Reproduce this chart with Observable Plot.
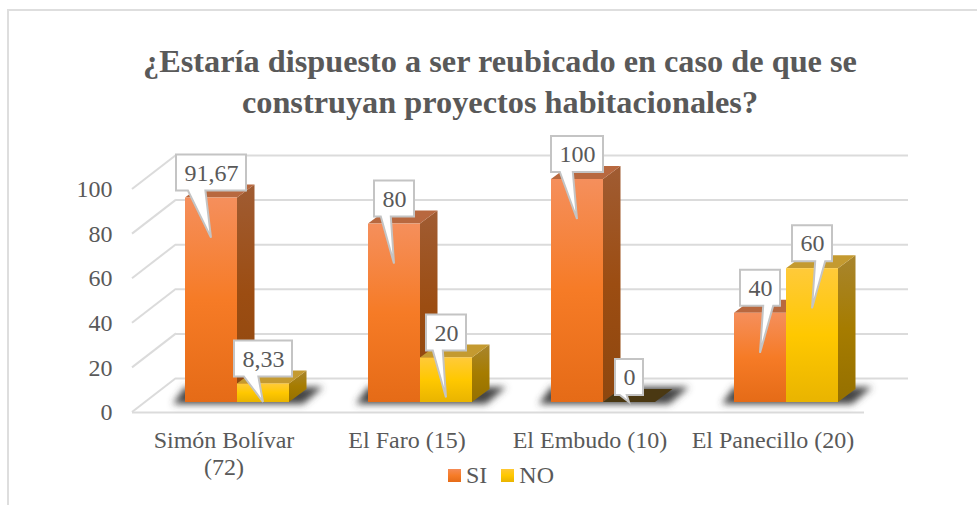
<!DOCTYPE html>
<html>
<head>
<meta charset="utf-8">
<script src="https://cdn.jsdelivr.net/npm/d3@7"></script>
<script src="https://cdn.jsdelivr.net/npm/@observablehq/plot@0.6"></script>
<style>
  html, body { margin: 0; padding: 0; background: #fff; }
  #page { position: relative; width: 977px; height: 505px; overflow: hidden; font-family: "Liberation Serif", serif; color: #595959; }
  #frame { position: absolute; left: 7px; top: 9px; width: 980px; height: 520px; border: 2px solid #DEDEDE; box-sizing: border-box; }
  #title { position: relative; width: 977px; height: 130px; box-sizing: border-box; padding: 41px 0 0 23px; text-align: center; font-weight: bold; font-size: 32.3px; line-height: 41px; }
  #legend { position: absolute; left: 448px; top: 462px; display: flex; align-items: center; font-size: 24px; line-height: 27px; }
  #legend i { display: inline-block; width: 13px; height: 13px; margin-right: 5px; }
  #legend span { margin-right: 14px; }
  svg { display: block; position: relative; overflow: visible; }
</style>
</head>
<body>
<div id="page">
  <div id="frame"></div>
  <div id="title">¿Estaría dispuesto a ser reubicado en caso de que se<br>construyan proyectos habitacionales?</div>
  <div id="chart"></div>
  <div id="legend">
    <i style="background:linear-gradient(#F58B55,#F67C28 50%,#E66C18)"></i><span>SI</span>
    <i style="background:linear-gradient(#FFC833,#FFC800 50%,#E9B400)"></i><span>NO</span>
  </div>
</div>
<script>
const groups = ["Simón Bolívar (72)", "El Faro (15)", "El Embudo (10)", "El Panecillo (20)"];
const groupLabels = ["Simón Bolívar\n(72)", "El Faro (15)", "El Embudo (10)", "El Panecillo (20)"];
const seriesNames = ["SI", "NO"];
const siValues = [91.67, 80, 100, 40];
const noValues = [8.33, 20, 0, 60];
const siLabels = ["91,67", "80", "100", "40"];
const noLabels = ["8,33", "20", "0", "60"];
const yTicks = [0, 20, 40, 60, 80, 100];

const rows = groups.flatMap((group, i) => [
  {group, series: "SI", value: siValues[i], label: siLabels[i], tailRight: i === 3},
  {group, series: "NO", value: noValues[i], label: noLabels[i], tailRight: i === 3}
]);

const FONT = 24;
const BAR_DX = 13, BAR_DY = -10;     // front face position inside the floor depth
const DEPTH_X = 17.5, DEPTH_Y = -13; // extrusion of a bar
const WALL_DX = 44, WALL_DY = -34;   // depth of the back wall
const NS = "http://www.w3.org/2000/svg";

function el(name, attrs) {
  const n = document.createElementNS(NS, name);
  for (const k in attrs) n.setAttribute(k, attrs[k]);
  return n;
}
function poly(points, fill, extra) {
  return el("polygon", {points: points.map(p => p.join(",")).join(" "), fill, ...extra});
}
function bandOf(scales) {
  const b = scales.x.bandwidth;
  return typeof b === "function" ? b() : b;
}
function barBox(d, scales) {
  const L = scales.x(d.series) + BAR_DX;
  const R = L + bandOf(scales);
  return {L, R, T: scales.y(d.value) + BAR_DY, B: scales.y(0) + BAR_DY};
}

function gradient(id, stops) {
  const g = el("linearGradient", {id, x1: 0, y1: 0, x2: 0, y2: 1});
  for (const [o, c] of stops) g.appendChild(el("stop", {offset: o, "stop-color": c}));
  return g;
}
function defsMark() {
  const defs = el("defs", {});
  defs.appendChild(gradient("frontSI", [[0, "#F58F5C"], [0.5, "#F67B26"], [1, "#E56B17"]]));
  defs.appendChild(gradient("frontNO", [[0, "#FFCA3A"], [0.5, "#FFC800"], [1, "#E9B400"]]));
  defs.appendChild(gradient("sideSI", [[0, "#A05C33"], [0.5, "#9C4D12"], [1, "#8E470F"]]));
  defs.appendChild(gradient("sideNO", [[0, "#A8852E"], [0.5, "#A67C00"], [1, "#957000"]]));
  const f = el("filter", {id: "soft", x: "-20%", y: "-80%", width: "140%", height: "260%"});
  f.appendChild(el("feGaussianBlur", {stdDeviation: 3.5}));
  defs.appendChild(f);
  return defs;
}

function renderDiagonals(index, scales, values, dims) {
  const g = el("g", {stroke: "#DBDBDB", "stroke-width": 2, fill: "none"});
  for (const i of index) {
    const y = scales.y(yTicks[i]);
    const x0 = dims.marginLeft;
    g.appendChild(el("line", {x1: x0, y1: y, x2: x0 + WALL_DX, y2: y + WALL_DY}));
  }
  return g;
}
function renderShadow(index, scales) {
  const g = el("g", {});
  for (const i of index) {
    const d = rows[i];
    if (d.series !== "SI") continue;
    const {L, B} = barBox(d, scales);
    const R = L + 2 * bandOf(scales);
    g.appendChild(poly([[L - 12, B + 2], [R + 14, B + 2], [R + 34, B - 15], [L, B - 15]], "#444", {filter: "url(#soft)"}));
  }
  return g;
}
function renderSides(index, scales) {
  const g = el("g", {});
  for (const i of index) {
    const d = rows[i];
    if (d.value === 0) continue;
    const {R, T, B} = barBox(d, scales);
    g.appendChild(poly([[R, T], [R + DEPTH_X, T + DEPTH_Y], [R + DEPTH_X, B + DEPTH_Y], [R, B]], d.series === "SI" ? "url(#sideSI)" : "url(#sideNO)"));
  }
  return g;
}
function renderTops(index, scales) {
  const g = el("g", {});
  for (const i of index) {
    const d = rows[i];
    const {L, R, T} = barBox(d, scales);
    const fill = d.value === 0 ? "#4A3812" : d.series === "SI" ? "#B8683F" : "#C49A30";
    g.appendChild(poly([[L, T], [R, T], [R + DEPTH_X, T + DEPTH_Y], [L + DEPTH_X, T + DEPTH_Y]], fill));
  }
  return g;
}
function renderCallouts(index, scales) {
  const g = el("g", {});
  for (const i of index) {
    const d = rows[i];
    const {L, R, T, B} = barBox(d, scales);
    const cx = (L + R) / 2;
    const chars = d.label.length - (d.label.includes(",") ? 0.5 : 0);
    const w = chars * FONT * 0.5 + 16;
    const h = 36;
    const cy = T - 25;
    const tipY = Math.min(T + 40, B);
    const left = cx - w / 2, right = cx + w / 2, top = cy - h / 2, bottom = cy + h / 2;
    const b1 = left + w * (d.tailRight ? 0.58 : 0.17);
    const b2 = left + w * (d.tailRight ? 0.83 : 0.42);
    const p = [[left, top], [right, top], [right, bottom], [b2, bottom], [cx, tipY], [b1, bottom], [left, bottom]];
    g.appendChild(poly(p, "#fff", {stroke: "#C4C4C4", "stroke-width": 2}));
  }
  return g;
}

const chart = Plot.plot({
  width: 977,
  height: 375,
  marginLeft: 131,
  marginRight: 112,
  marginTop: 59,
  marginBottom: 93,
  style: {fontFamily: "Liberation Serif", color: "#595959", background: "transparent", overflow: "visible"},
  fx: {domain: groups, padding: 0, label: null, axis: null},
  x: {domain: seriesNames, paddingInner: 0, paddingOuter: 0.748, axis: null},
  y: {domain: [0, 100], label: null, axis: null},
  color: {domain: seriesNames, range: ["url(#frontSI)", "url(#frontNO)"]},
  marks: [
    defsMark,
    Plot.ruleY(yTicks, {dx: WALL_DX, dy: WALL_DY, stroke: "#DBDBDB", strokeWidth: 2}),
    Plot.ruleY(yTicks, {y: d => d, fx: () => groups[0], render: renderDiagonals}),
    Plot.ruleY([0], {stroke: "#DBDBDB", strokeWidth: 2}),
    Plot.axisY({ticks: yTicks, anchor: "left", tickSize: 0, tickPadding: 20, fontSize: FONT, label: null}),
    Plot.axisFx({anchor: "bottom", tickSize: 0, tickPadding: 16, fontSize: FONT, lineHeight: 1.125, label: null,
      tickFormat: d => groupLabels[groups.indexOf(d)]}),
    Plot.barY(rows, {fx: "group", x: "series", y: "value", render: renderShadow}),
    Plot.barY(rows, {fx: "group", x: "series", y: "value", render: renderSides}),
    Plot.barY(rows, {fx: "group", x: "series", y: "value", render: renderTops}),
    Plot.barY(rows, {fx: "group", x: "series", y: "value", fill: "series", dx: BAR_DX, dy: BAR_DY}),
    Plot.barY(rows, {fx: "group", x: "series", y: "value", render: renderCallouts}),
    Plot.text(rows, {fx: "group", x: "series", y: "value", text: "label", dx: BAR_DX, dy: BAR_DY - 25, fontSize: FONT, fill: "#595959"})
  ]
});
document.getElementById("chart").appendChild(chart);
</script>
</body>
</html>
